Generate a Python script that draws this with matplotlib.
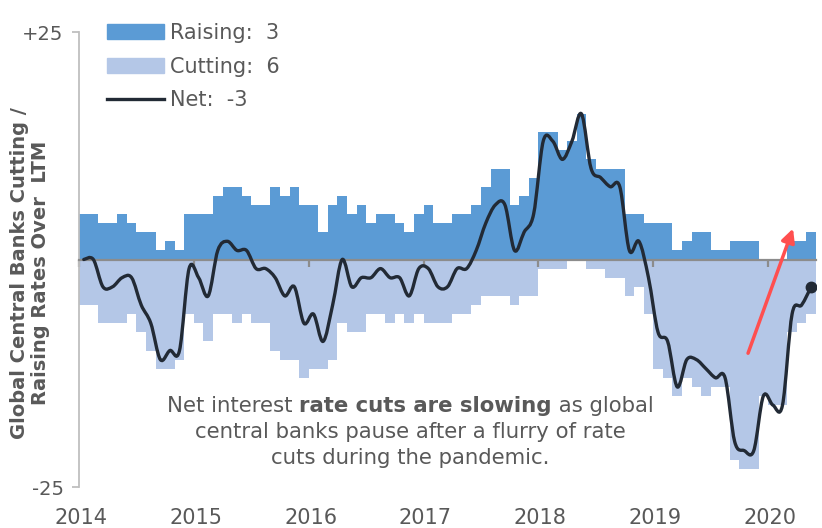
import numpy as np
import matplotlib
matplotlib.use('Agg')
import matplotlib.pyplot as plt
from matplotlib.path import Path
from matplotlib.patches import PathPatch, Patch
from matplotlib.lines import Line2D

# monthly counts, Jan 2014 .. May 2020
raising = [5, 5, 4, 4, 5, 4, 3, 3, 1, 2, 1, 5,
           5, 5, 7, 8, 8, 7, 6, 6, 8, 7, 8, 6,
           6, 3, 6, 7, 5, 6, 4, 5, 5, 4, 3, 5,
           6, 4, 4, 5, 5, 6, 8, 10, 10, 6, 7, 9,
           14, 14, 12, 13, 16, 11, 10, 10, 10, 5, 5, 4,
           4, 4, 1, 2, 3, 3, 1, 1, 2, 2, 2, 0,
           0, 0, 2, 2, 3]
cutting = [5, 5, 7, 7, 7, 6, 8, 10, 12, 12, 11, 6,
           7, 9, 6, 6, 7, 6, 7, 7, 10, 11, 11, 13,
           12, 12, 11, 7, 8, 8, 6, 6, 7, 6, 7, 6,
           7, 7, 7, 6, 6, 5, 4, 4, 4, 5, 4, 4,
           1, 1, 1, 0, 0, 1, 1, 2, 2, 4, 3, 6,
           12, 13, 15, 13, 14, 15, 14, 14, 22, 23, 23, 15,
           16, 16, 8, 7, 6]
net = [0, 0, -3, -3, -2, -2, -5, -7, -11, -10, -10, -1,
       -2, -4, 1, 2, 1, 1, -1, -1, -2, -4, -3, -7,
       -6, -9, -5, 0, -3, -2, -2, -1, -2, -2, -4, -1,
       -1, -3, -3, -1, -1, 1, 4, 6, 6, 1, 3, 5,
       13, 13, 11, 13, 16, 10, 9, 8, 8, 1, 2, -2,
       -8, -9, -14, -11, -11, -12, -13, -13, -20, -21, -21, -15,
       -16, -16, -6, -5, -3]
years = ['2014', '2015', '2016', '2017', '2018', '2019', '2020']

C_RAISE = '#5B9BD5'
C_CUT = '#B4C7E7'
C_NET = '#222A35'
C_TXT = '#595959'

plt.rcParams['font.family'] = ['DejaVu Sans']

n = len(net)
idx = np.arange(n)

fig = plt.figure(figsize=(8.22, 5.28), dpi=100)
ax = fig.add_axes([79 / 822, 1 - 487 / 528, 737 / 822, 455 / 528])

ax.bar(idx, raising, width=1.0, align='edge', color=C_RAISE, linewidth=0, zorder=1)
ax.bar(idx, [-c for c in cutting], width=1.0, align='edge', color=C_CUT, linewidth=0, zorder=1)

# smoothed net line (catmull-rom style bezier, like excel's smooth line)
xs = idx + 0.5
ys = np.array(net, dtype=float)
verts = [(xs[0], ys[0])]
codes = [Path.MOVETO]
for i in range(n - 1):
    j0 = max(i - 1, 0)
    j3 = min(i + 2, n - 1)
    c1 = (xs[i] + (xs[i + 1] - xs[j0]) / 6, ys[i] + (ys[i + 1] - ys[j0]) / 6)
    c2 = (xs[i + 1] - (xs[j3] - xs[i]) / 6, ys[i + 1] - (ys[j3] - ys[i]) / 6)
    verts += [c1, c2, (xs[i + 1], ys[i + 1])]
    codes += [Path.CURVE4] * 3
ax.add_patch(PathPatch(Path(verts, codes), fill=False, edgecolor=C_NET, lw=2.4,
                       capstyle='round', joinstyle='round', zorder=4))
ax.plot(xs[-1], ys[-1], 'o', color=C_NET, markersize=7.5, zorder=5)

# red arrow
ax.annotate('', xy=(74.6, 3.4), xytext=(69.9, -10.3),
            arrowprops=dict(arrowstyle='-|>', color='#FF4F4F', lw=2.5,
                            mutation_scale=20, shrinkA=0, shrinkB=0), zorder=6)

ax.set_xlim(0, n)
ax.set_ylim(-25, 25)

for s in ['top', 'right']:
    ax.spines[s].set_visible(False)
ax.spines['left'].set_color('#BFBFBF')
ax.spines['left'].set_linewidth(1.3)
ax.spines['bottom'].set_position(('data', 0))
ax.spines['bottom'].set_color('#8C8C8C')
ax.spines['bottom'].set_linewidth(1.6)
ax.spines['bottom'].set_zorder(3)

ax.set_yticks([-25, 25])
ax.set_yticklabels(['-25', '+25'])
ax.tick_params(axis='y', colors='#BFBFBF', labelcolor=C_TXT, labelsize=14,
               length=5, width=1.3, pad=6)
tick_pos = [12 * k for k in range(len(years))]
ax.set_xticks(tick_pos)
ax.tick_params(axis='x', colors='#8C8C8C', length=5, width=1.6, labelbottom=False)

sec = ax.secondary_xaxis(0.0)
sec.set_xticks([p + 0.2 for p in tick_pos])
sec.set_xticklabels(years)
sec.spines['bottom'].set_visible(False)
sec.tick_params(length=0, pad=15, labelsize=15, labelcolor=C_TXT)

fig.text(30 / 822, 1 - 273 / 528, 'Global Central Banks Cutting /\nRaising Rates Over  LTM',
         rotation=90, ha='center', va='center', fontsize=14, fontweight='bold',
         color=C_TXT, linespacing=1.1)

handles = [Patch(color=C_RAISE), Patch(color=C_CUT), Line2D([], [], color=C_NET, lw=2.4)]
labels = ['Raising:  %d' % raising[-1], 'Cutting:  %d' % cutting[-1], 'Net:  %d' % net[-1]]
leg = fig.legend(handles, labels, loc='upper left', bbox_to_anchor=(107 / 822, 1 - 23 / 528),
                 frameon=False, fontsize=15, handlelength=2.75, handletextpad=0.25,
                 labelspacing=0.66, borderpad=0, borderaxespad=0)
for t in leg.get_texts():
    t.set_color(C_TXT)

# annotation with a bold middle part
fig.canvas.draw()
r = fig.canvas.get_renderer()
parts = [('Net interest ', 'normal'), ('rate cuts are slowing', 'bold'), (' as global', 'normal')]
objs = [fig.text(0, 0, p, fontsize=15.3, fontweight=w, color=C_TXT, va='baseline') for p, w in parts]
widths = [o.get_window_extent(r).width for o in objs]
xc, yb = 410, 1 - 412 / 528
x0 = xc - sum(widths) / 2
for o, w in zip(objs, widths):
    o.set_position((x0 / 822, yb))
    x0 += w
fig.text(xc / 822, 1 - 438 / 528, 'central banks pause after a flurry of rate',
         fontsize=15.3, color=C_TXT, ha='center', va='baseline')
fig.text(xc / 822, 1 - 464 / 528, 'cuts during the pandemic.',
         fontsize=15.3, color=C_TXT, ha='center', va='baseline')

fig.savefig('out.png', dpi=100)
